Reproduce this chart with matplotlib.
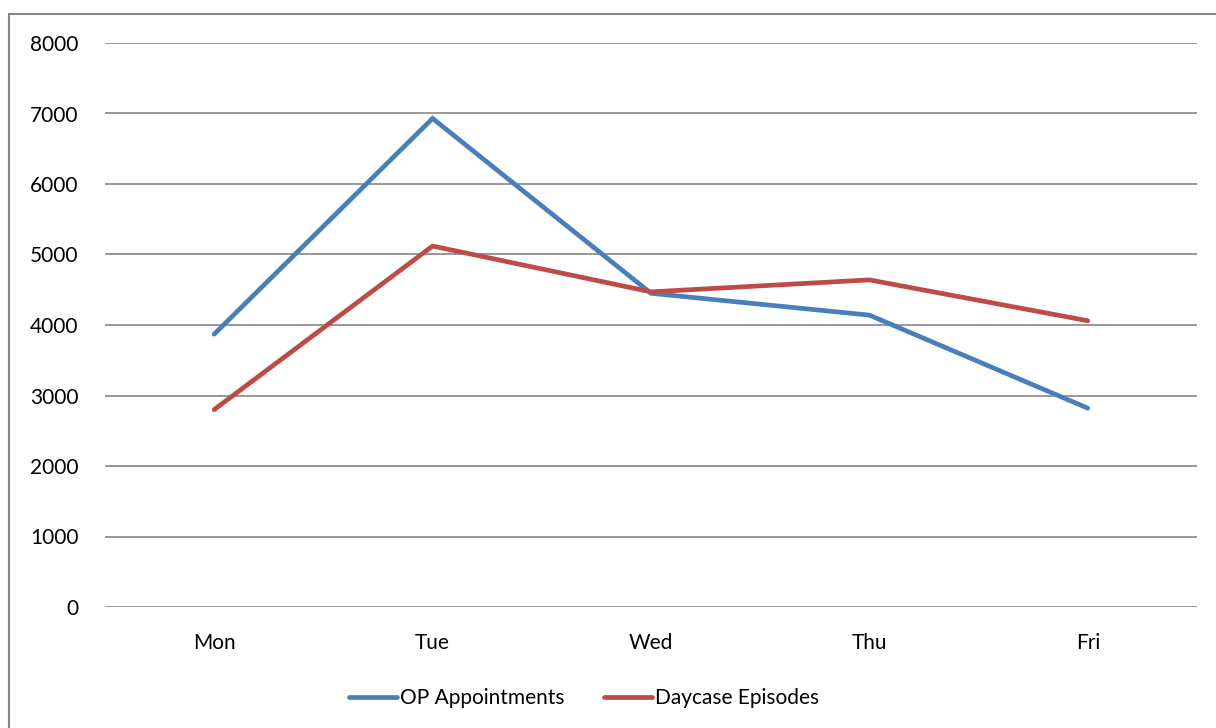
import matplotlib
matplotlib.use("Agg")
import matplotlib.pyplot as plt
from matplotlib.patches import Rectangle

days = ["Mon", "Tue", "Wed", "Thu", "Fri"]
op_appointments = [3870, 6930, 4450, 4140, 2820]
daycase_episodes = [2800, 5120, 4470, 4640, 4060]
y_ticks = [0, 1000, 2000, 3000, 4000, 5000, 6000, 7000, 8000]

plt.rcParams["font.family"] = ["Lato", "DejaVu Sans"]

W, H = 1216, 728
fig = plt.figure(figsize=(W / 100, H / 100), dpi=100)
fig.patch.set_facecolor("white")

# outer chart frame
fig.add_artist(Rectangle((8.5 / W, -0.05), 1.2, 1 - 13.5 / H + 0.05,
                         transform=fig.transFigure, fill=False,
                         edgecolor="#868686", linewidth=1.5))

ax = fig.add_axes([105 / W, (H - 607) / H, 1092 / W, 564 / H])
x = [i + 0.5 for i in range(len(days))]

grid_color = "#868686"
for v in y_ticks:
    ax.axhline(v, color=grid_color, linewidth=1.2, zorder=1)

blue = "#4A7EBB"
red = "#BE4B48"
ax.plot(x, op_appointments, color=blue, linewidth=3.4,
        solid_capstyle="round", solid_joinstyle="miter",
        label="OP Appointments", zorder=3)
ax.plot(x, daycase_episodes, color=red, linewidth=3.4,
        solid_capstyle="round", solid_joinstyle="miter",
        label="Daycase Episodes", zorder=3)

ax.set_xlim(0, len(days))
ax.set_ylim(0, 8000)
ax.set_xticks(x)
ax.set_xticklabels(days)
ax.set_yticks(y_ticks)
ax.set_yticklabels([str(v) for v in y_ticks])
for s in ax.spines.values():
    s.set_visible(False)
ax.tick_params(axis="both", length=0, labelsize=15, colors="black")
ax.tick_params(axis="y", pad=19)
ax.tick_params(axis="x", pad=19)

handles, labels = ax.get_legend_handles_labels()
fig.legend(handles, labels, loc="center", ncol=2,
           bbox_to_anchor=(584 / W, 1 - 698 / H), frameon=False,
           fontsize=15, handlelength=2.3, handletextpad=0.15,
           columnspacing=1.9)

fig.savefig("out.png", dpi=100, facecolor="white")
